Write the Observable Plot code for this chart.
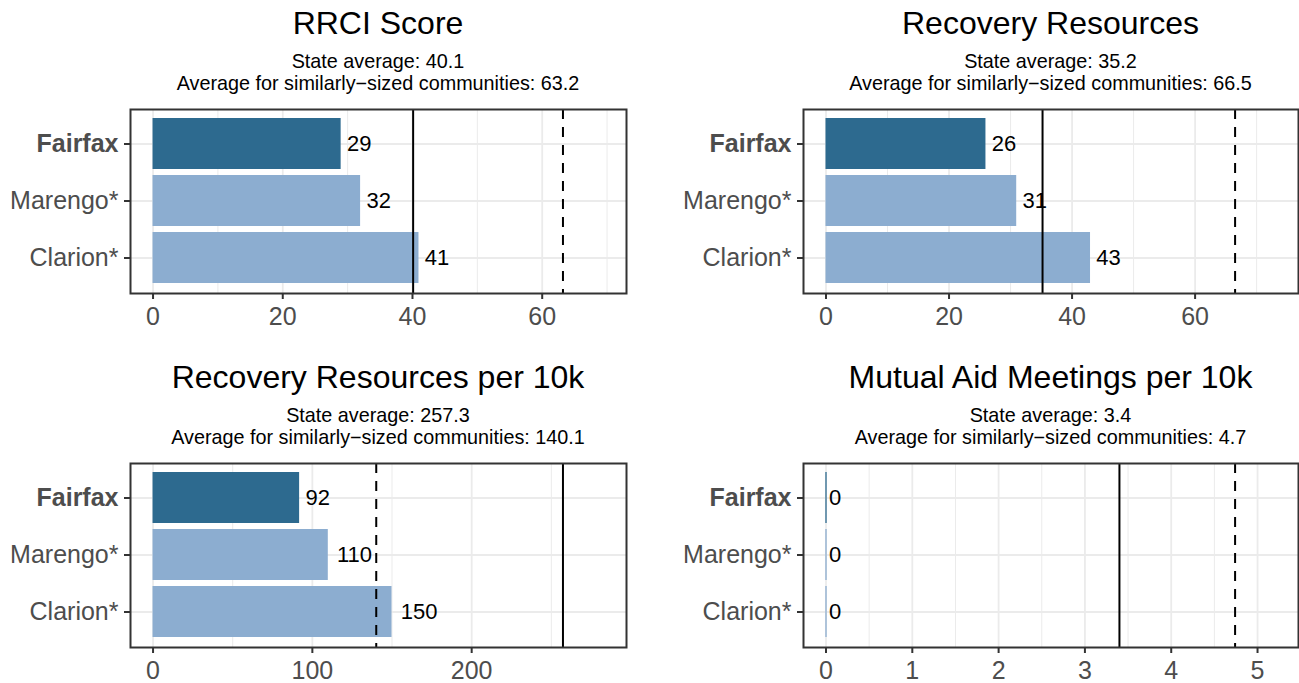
<!DOCTYPE html>
<html><head><meta charset="utf-8">
<script src="https://cdn.jsdelivr.net/npm/d3@7"></script>
<script src="https://cdn.jsdelivr.net/npm/@observablehq/plot@0.6"></script>
<style>
body{margin:0;background:#fff;font-family:"Liberation Sans",Arial,Helvetica,sans-serif;}
#root{position:relative;width:1299px;height:683px;overflow:hidden;background:#fff;}
.title{position:absolute;font-size:32px;line-height:32px;white-space:nowrap;transform:translateX(-50%);color:#000;}
.sub{position:absolute;font-size:19.8px;line-height:22px;white-space:nowrap;transform:translateX(-50%);text-align:center;color:#000;}
.cell{position:absolute;}
.cell svg{overflow:visible;}
</style></head><body><div id="root"></div>
<script>
// ---- data ----
const communities = ["Fairfax", "Marengo*", "Clarion*"];
const highlight = "Fairfax";
const panelTitles = ["RRCI Score", "Recovery Resources", "Recovery Resources per 10k", "Mutual Aid Meetings per 10k"];
const rrciScore = [29, 32, 41];
const recoveryResources = [26, 31, 43];
const resourcesPer10k = [92, 110, 150];
const meetingsPer10k = [0, 0, 0];
const stateAverage = [40.1, 35.2, 257.3, 3.4];
const similarAverage = [63.2, 66.5, 140.1, 4.74];
const majorTicks = [[0, 20, 40, 60], [0, 20, 40, 60], [0, 100, 200], [0, 1, 2, 3, 4, 5]];
const minorTicks = [[10, 30, 50, 70], [10, 30, 50, 70], [50, 150, 250], [0.5, 1.5, 2.5, 3.5, 4.5]];
const darkBlue = "#2d6a8f";
const lightBlue = "#8cadd0";

const seriesValues = [rrciScore, recoveryResources, resourcesPer10k, meetingsPer10k];
const root = document.getElementById("root");
const FONT = "'Liberation Sans', Arial, Helvetica, sans-serif";

seriesValues.forEach((vals, i) => {
  const col = i % 2, row = Math.floor(i / 2);
  const cellLeft = col === 0 ? 0 : 650;
  const cellWidth = 649;
  const marginLeft = col === 0 ? 130 : 153;
  const marginRight = col === 0 ? 23 : 1;
  const svgTop = row === 0 ? 100 : 454;
  const svgHeight = row === 0 ? 240 : 229;
  const marginTop = 9;
  const marginBottom = svgHeight - marginTop - 184;
  const centerX = cellLeft + marginLeft + (cellWidth - marginLeft - marginRight) / 2;
  const rowOffset = row === 0 ? 0 : 354;

  const t = document.createElement("div");
  t.className = "title";
  t.style.left = centerX + "px";
  t.style.top = (7 + rowOffset) + "px";
  t.textContent = panelTitles[i];
  root.appendChild(t);

  const s = document.createElement("div");
  s.className = "sub";
  s.style.left = centerX + "px";
  s.style.top = (50 + rowOffset) + "px";
  s.innerHTML = "State average: " + stateAverage[i].toFixed(1) +
    "<br>Average for similarly\u2212sized communities: " + similarAverage[i].toFixed(1);
  root.appendChild(s);

  const data = communities.map((c, j) => ({name: c, value: vals[j], hl: c === highlight}));
  const M = 1.1 * d3.max([...vals, stateAverage[i], similarAverage[i]]);
  const labelMarks = [1, 2, 3, 4].map(L => Plot.text(
    data.filter(d => String(d.value).length === L),
    {x: "value", y: "name", text: d => String(d.value), textAnchor: "start", dx: 2.9 * L,
     fontSize: 22, fill: "black"}));

  const chart = Plot.plot({
    width: cellWidth, height: svgHeight,
    marginLeft, marginRight, marginTop, marginBottom,
    style: {fontFamily: FONT, background: "transparent", overflow: "visible"},
    x: {domain: [-0.05 * M, 1.05 * M], label: null},
    y: {domain: communities, paddingInner: 0.1, paddingOuter: 0.15, label: null},
    color: {type: "identity"},
    marks: [
      Plot.gridX(minorTicks[i], {stroke: "#ebebeb", strokeOpacity: 1, strokeWidth: 1}),
      Plot.gridX(majorTicks[i], {stroke: "#ebebeb", strokeOpacity: 1, strokeWidth: 1.8}),
      Plot.gridY(communities, {stroke: "#ebebeb", strokeOpacity: 1, strokeWidth: 1.8}),
      Plot.barX(data, {x: "value", y: "name", fill: d => d.hl ? darkBlue : lightBlue}),
      Plot.tickX(data.filter(d => d.value === 0), {x: "value", y: "name", stroke: d => d.hl ? darkBlue : lightBlue, strokeWidth: 1.3}),
      ...labelMarks,
      Plot.ruleX([stateAverage[i]], {stroke: "black", strokeWidth: 2}),
      Plot.ruleX([similarAverage[i]], {stroke: "black", strokeWidth: 2, strokeDasharray: "10,8"}),
      Plot.frame({stroke: "#333333", strokeWidth: 2}),
      Plot.axisX(majorTicks[i], {tickSize: 6, tickPadding: 8, fontSize: 25, fill: "#4d4d4d", stroke: "#333333", strokeWidth: 2, label: null}),
      Plot.axisY([highlight], {tickSize: 6, tickPadding: 6, fontSize: 25, fontWeight: "bold", fill: "#4d4d4d", stroke: "#333333", strokeWidth: 2, label: null}),
      Plot.axisY(communities.filter(c => c !== highlight), {tickSize: 6, tickPadding: 6, fontSize: 25, fill: "#4d4d4d", stroke: "#333333", strokeWidth: 2, label: null})
    ]
  });
  const cell = document.createElement("div");
  cell.className = "cell";
  cell.style.left = cellLeft + "px";
  cell.style.top = svgTop + "px";
  cell.appendChild(chart);
  root.appendChild(cell);
});
</script>
</body></html>
